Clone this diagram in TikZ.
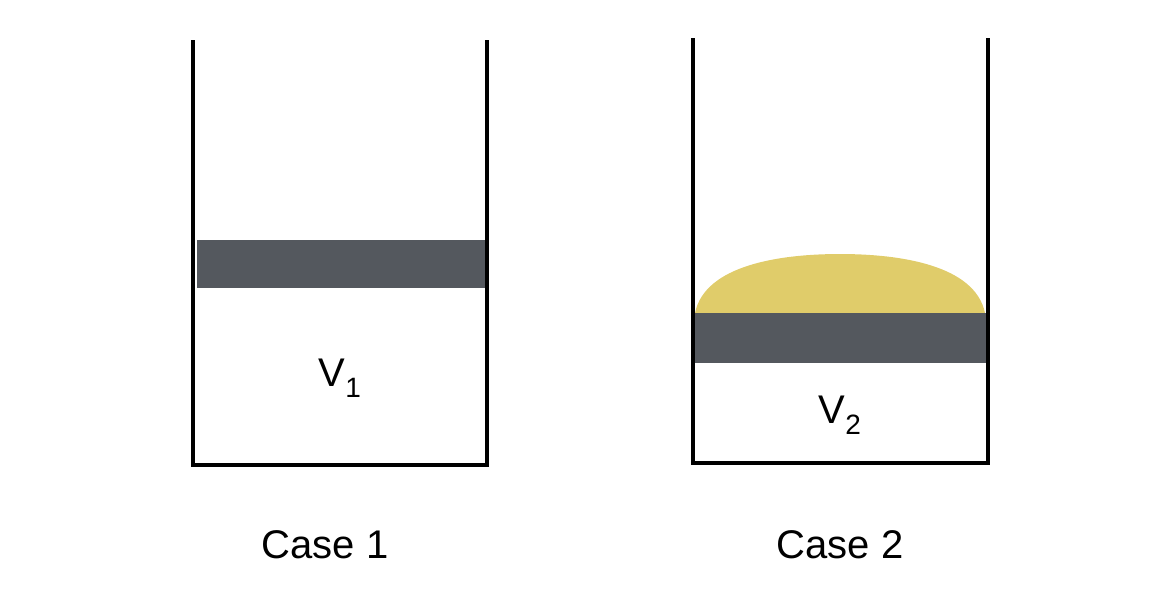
\documentclass[tikz,border=0pt]{standalone}
\usepackage{fontspec}
\setmainfont{Liberation Sans}
\definecolor{piston}{HTML}{54585E}
\definecolor{gas}{HTML}{E0CC6A}
\begin{document}
\begin{tikzpicture}[x=1pt,y=-1pt,
  wall/.style={line width=4pt,line cap=rect},
  lbl/.style={font=\fontsize{40}{48}\selectfont}]
\useasboundingbox (0,0) rectangle (1156,598);
% Case 1
\fill[piston] (197,240) rectangle (487,288);
\draw[wall] (193,42) -- (193,465) -- (487,465) -- (487,42);
\node[lbl] (v1) at (340,378) {V\textsubscript{1}};
\node[lbl] (c1) at (325,545) {Case 1};
% Case 2
\fill[gas] (695,313) .. controls (705,265) and (780,254) .. (840,254) .. controls (900,254) and (975,265) .. (985,313) -- cycle;
\fill[piston] (693,313) rectangle (987,363);
\draw[wall] (693,40) -- (693,463) -- (988,463) -- (988,40);
\node[lbl] (v2) at (840,415) {V\textsubscript{2}};
\node[lbl] (c2) at (840,545) {Case 2};
\end{tikzpicture}
\end{document}
